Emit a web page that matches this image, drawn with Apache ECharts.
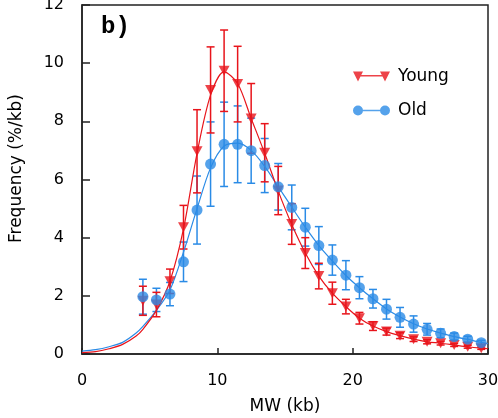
<!doctype html>
<html lang="en">
<head>
  <meta charset="utf-8">
  <title>MW distribution</title>
  <script src="https://cdn.jsdelivr.net/npm/echarts@6/dist/echarts.min.js"></script>
  <style>
    html, body { margin: 0; padding: 0; background: #fff; }
    #chart { width: 498px; height: 418px; }
  </style>
</head>
<body>
  <div id="chart"></div>
  <script>
    // bin centres (kb)
    var mw = [4.5, 5.5, 6.5, 7.5, 8.5, 9.5, 10.5, 11.5, 12.5, 13.5, 14.5, 15.5, 16.5,
      17.5, 18.5, 19.5, 20.5, 21.5, 22.5, 23.5, 24.5, 25.5, 26.5, 27.5, 28.5, 29.5];

    var young = [1.83, 1.7, 2.5, 4.36, 6.97, 9.08, 9.74, 9.28, 8.1, 6.92, 5.62, 4.47, 3.47,
      2.68, 2.09, 1.63, 1.23, 0.96, 0.77, 0.63, 0.51, 0.42, 0.37, 0.31, 0.25, 0.2];
    var youngErr = [0.5, 0.42, 0.42, 0.75, 1.43, 1.48, 1.4, 1.3, 1.2, 1.0, 0.83, 0.7, 0.53,
      0.44, 0.38, 0.25, 0.2, 0.15, 0.12, 0.1, 0.08, 0.07, 0.06, 0.05, 0.05, 0.04];

    var old = [1.97, 1.86, 2.06, 3.17, 4.95, 6.53, 7.21, 7.21, 6.99, 6.48, 5.75, 5.04, 4.36,
      3.73, 3.23, 2.71, 2.28, 1.9, 1.54, 1.26, 1.03, 0.85, 0.71, 0.6, 0.51, 0.39];
    var oldErr = [0.6, 0.4, 0.4, 0.68, 1.17, 1.45, 1.45, 1.32, 1.12, 0.93, 0.8, 0.77, 0.65,
      0.65, 0.52, 0.5, 0.38, 0.32, 0.34, 0.34, 0.28, 0.2, 0.15, 0.12, 0.1, 0.08];

    // fitted curves
    var youngFit = [[0, 0.05], [1, 0.08], [2, 0.18], [3, 0.33], [4, 0.62], [4.5, 0.85], [5.5, 1.5],
      [6.5, 2.5], [7.5, 4.3], [8.5, 6.9], [9.5, 8.9], [10.5, 9.7], [11.5, 9.3], [12.5, 8.1],
      [13.5, 6.9], [14.5, 5.6], [15.5, 4.45], [16.5, 3.47], [17.5, 2.68], [18.5, 2.09],
      [19.5, 1.63], [20.5, 1.23], [21.5, 0.96], [22.5, 0.77], [23.5, 0.63], [24.5, 0.51],
      [25.5, 0.42], [26.5, 0.37], [27.5, 0.31], [28.5, 0.25], [29.5, 0.2], [30, 0.18]];
    var oldFit = [[0, 0.1], [1, 0.15], [2, 0.25], [3, 0.4], [4, 0.72], [4.5, 0.95], [5.5, 1.5],
      [6.5, 2.2], [7.5, 3.5], [8.5, 5.0], [9.5, 6.4], [10.5, 7.15], [11.5, 7.25], [12.5, 7.0],
      [13.5, 6.45], [14.5, 5.75], [15.5, 5.05], [16.5, 4.36], [17.5, 3.73], [18.5, 3.2],
      [19.5, 2.7], [20.5, 2.28], [21.5, 1.9], [22.5, 1.55], [23.5, 1.27], [24.5, 1.04],
      [25.5, 0.86], [26.5, 0.72], [27.5, 0.6], [28.5, 0.5], [29.5, 0.4], [30, 0.36]];

    var xTicks = [0, 10, 20, 30];
    var yTicks = [0, 2, 4, 6, 8, 10, 12];

    var RED = '#e8141b';
    var BLUE = '#2a8be6';
    var FONT = '"DejaVu Sans", Verdana, sans-serif';

    function pairs(xs, ys) {
      return xs.map(function (x, i) { return [x, ys[i]]; });
    }
    function triples(xs, ys, es) {
      return xs.map(function (x, i) { return [x, ys[i], es[i]]; });
    }

    // vertical error bar with caps
    function errorBars(color) {
      return function (params, api) {
        var x = api.value(0), y = api.value(1), e = api.value(2);
        var top = api.coord([x, y + e]);
        var bot = api.coord([x, y - e]);
        var w = 4;
        var st = { stroke: color, lineWidth: 1.5 };
        return {
          type: 'group',
          children: [
            { type: 'line', shape: { x1: top[0], y1: top[1], x2: bot[0], y2: bot[1] }, style: st },
            { type: 'line', shape: { x1: top[0] - w, y1: top[1], x2: top[0] + w, y2: top[1] }, style: st },
            { type: 'line', shape: { x1: bot[0] - w, y1: bot[1], x2: bot[0] + w, y2: bot[1] }, style: st }
          ]
        };
      };
    }

    var chart = echarts.init(document.getElementById('chart'));

    var option = {
      animation: false,
      backgroundColor: '#fff',
      title: {
        text: 'b)',
        left: 96,
        top: 10,
        textStyle: {
          fontFamily: '"Liberation Mono", "DejaVu Sans Mono", monospace',
          fontWeight: 'bold',
          fontSize: 24,
          color: '#000'
        }
      },
      legend: {
        orient: 'vertical',
        left: 348,
        top: 63,
        itemWidth: 37,
        itemHeight: 10,
        itemGap: 17,
        textStyle: { fontFamily: FONT, fontSize: 17, color: '#000', padding: [0, 0, 0, 3] },
        data: [
          {
            name: 'Young',
            icon: 'path://M0,0L10,0L5,10ZM27,0L37,0L32,10ZM5,3.5L32,3.5L32,5L5,5Z'
          },
          {
            name: 'Old',
            icon: 'path://M0,5A5,5 0 1,1 10,5A5,5 0 1,1 0,5ZM27,5A5,5 0 1,1 37,5A5,5 0 1,1 27,5ZM5,4.3L32,4.3L32,5.7L5,5.7Z'
          }
        ]
      },
      grid: {
        left: 82,
        right: 10,
        top: 5,
        bottom: 64,
        outerBoundsMode: 'none',
        show: true,
        borderColor: '#222',
        borderWidth: 1.5
      },
      xAxis: {
        type: 'value',
        min: xTicks[0],
        max: xTicks[xTicks.length - 1],
        interval: 10,
        name: 'MW (kb)',
        nameLocation: 'middle',
        nameGap: 44,
        nameTextStyle: { fontFamily: FONT, fontSize: 17, color: '#000' },
        axisLine: { lineStyle: { color: '#222', width: 1.5 } },
        axisTick: { inside: true, length: 6, lineStyle: { color: '#222', width: 1.5 } },
        axisLabel: { margin: 19, fontFamily: FONT, fontSize: 16, color: '#000' },
        splitLine: { show: false }
      },
      yAxis: {
        type: 'value',
        min: yTicks[0],
        max: yTicks[yTicks.length - 1],
        interval: 2,
        name: 'Frequency (%/kb)',
        nameLocation: 'middle',
        nameGap: 57,
        nameRotate: 90,
        nameTextStyle: { fontFamily: FONT, fontSize: 17, color: '#000', padding: [0, 0, 0, 22] },
        axisLine: { lineStyle: { color: '#222', width: 1.5 } },
        axisTick: { inside: true, length: 8, lineStyle: { color: '#222', width: 1.5 } },
        axisLabel: { margin: 18, fontFamily: FONT, fontSize: 16, color: '#000' },
        splitLine: { show: false }
      },
      series: [
        {
          name: 'Old err',
          type: 'custom',
          renderItem: errorBars(BLUE),
          data: triples(mw, old, oldErr),
          encode: { x: 0, y: 1 },
          z: 2,
          silent: true
        },
        {
          name: 'Young err',
          type: 'custom',
          renderItem: errorBars(RED),
          data: triples(mw, young, youngErr),
          encode: { x: 0, y: 1 },
          z: 2,
          silent: true
        },
        {
          name: 'Old fit',
          type: 'line',
          data: oldFit,
          smooth: 0.3,
          showSymbol: false,
          lineStyle: { color: BLUE, width: 1.2 },
          z: 3
        },
        {
          name: 'Young fit',
          type: 'line',
          data: youngFit,
          smooth: 0.3,
          showSymbol: false,
          lineStyle: { color: RED, width: 1.2 },
          z: 3
        },
        {
          name: 'Young',
          type: 'scatter',
          data: pairs(mw, young),
          symbol: 'triangle',
          symbolRotate: 180,
          symbolSize: [11, 10],
          itemStyle: { color: RED },
          z: 4
        },
        {
          name: 'Old',
          type: 'scatter',
          data: pairs(mw, old),
          symbol: 'circle',
          symbolSize: 11,
          itemStyle: { color: BLUE },
          z: 5
        }
      ]
    };

    chart.setOption(option);
  </script>
</body>
</html>
